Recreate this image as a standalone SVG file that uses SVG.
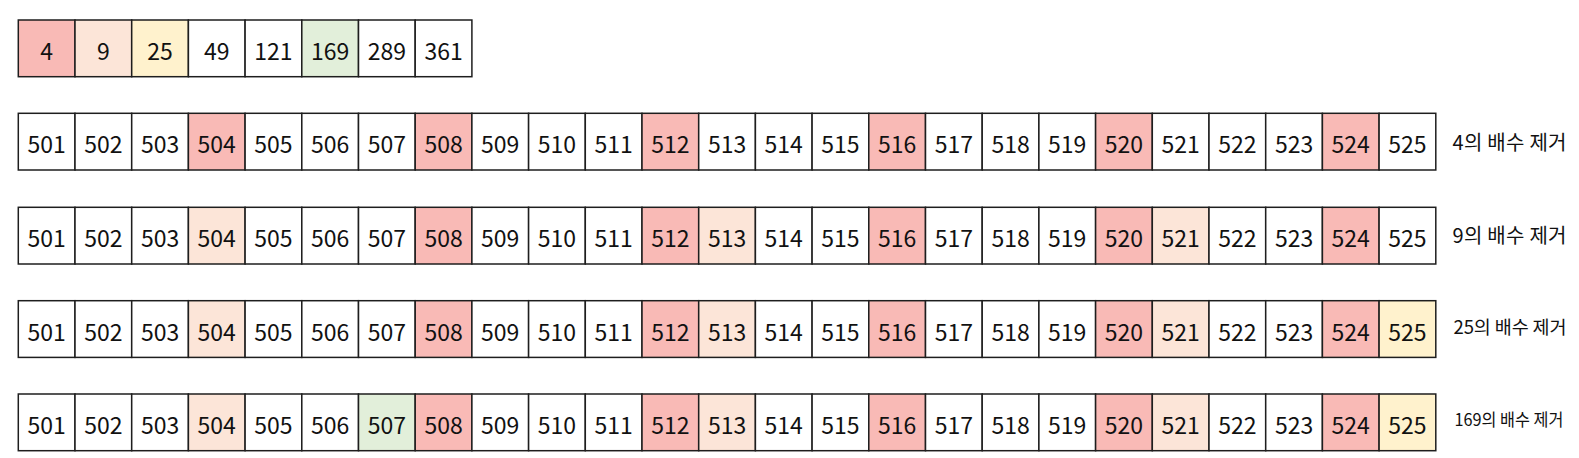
<svg xmlns="http://www.w3.org/2000/svg" width="1579" height="458" viewBox="0 0 1579 458">
<style>
rect{fill:#fff;stroke:#1e1e1e;stroke-width:1.5}
rect.r{fill:#F9BAB6}
rect.p{fill:#FCE5D8}
rect.y{fill:#FFF2CD}
rect.g{fill:#E2EFDA}
text{font-family:"Noto Sans CJK KR","Noto Sans",sans-serif;fill:#111}
.n{font-size:23px;text-anchor:middle}
.l{font-size:20px}
</style>
<rect x="0" y="0" width="1579" height="458" style="fill:#fff;stroke:none"/>
<g id="primes">
<g id="p4"><rect class="r" x="18.3" y="20" width="56.7" height="56.7"/><text class="n" x="46.65" y="59.7">4</text></g>
<g id="p9"><rect class="p" x="75" y="20" width="56.7" height="56.7"/><text class="n" x="103.35" y="59.7">9</text></g>
<g id="p25"><rect class="y" x="131.7" y="20" width="56.7" height="56.7"/><text class="n" x="160.05" y="59.7">25</text></g>
<g id="p49"><rect x="188.4" y="20" width="56.7" height="56.7"/><text class="n" x="216.75" y="59.7">49</text></g>
<g id="p121"><rect x="245.1" y="20" width="56.7" height="56.7"/><text class="n" x="273.45" y="59.7">121</text></g>
<g id="p169"><rect class="g" x="301.8" y="20" width="56.7" height="56.7"/><text class="n" x="330.15" y="59.7">169</text></g>
<g id="p289"><rect x="358.5" y="20" width="56.7" height="56.7"/><text class="n" x="386.85" y="59.7">289</text></g>
<g id="p361"><rect x="415.2" y="20" width="56.7" height="56.7"/><text class="n" x="443.55" y="59.7">361</text></g>
</g>

<g id="row1" transform="translate(0,113.3)">
<g id="a501"><rect x="18.3" y="0" width="56.7" height="56.7"/><text class="n" x="46.65" y="40">501</text></g>
<g id="a502"><rect x="75" y="0" width="56.7" height="56.7"/><text class="n" x="103.35" y="40">502</text></g>
<g id="a503"><rect x="131.7" y="0" width="56.7" height="56.7"/><text class="n" x="160.05" y="40">503</text></g>
<g id="a504"><rect class="r" x="188.4" y="0" width="56.7" height="56.7"/><text class="n" x="216.75" y="40">504</text></g>
<g id="a505"><rect x="245.1" y="0" width="56.7" height="56.7"/><text class="n" x="273.45" y="40">505</text></g>
<g id="a506"><rect x="301.8" y="0" width="56.7" height="56.7"/><text class="n" x="330.15" y="40">506</text></g>
<g id="a507"><rect x="358.5" y="0" width="56.7" height="56.7"/><text class="n" x="386.85" y="40">507</text></g>
<g id="a508"><rect class="r" x="415.2" y="0" width="56.7" height="56.7"/><text class="n" x="443.55" y="40">508</text></g>
<g id="a509"><rect x="471.9" y="0" width="56.7" height="56.7"/><text class="n" x="500.25" y="40">509</text></g>
<g id="a510"><rect x="528.6" y="0" width="56.7" height="56.7"/><text class="n" x="556.95" y="40">510</text></g>
<g id="a511"><rect x="585.3" y="0" width="56.7" height="56.7"/><text class="n" x="613.65" y="40">511</text></g>
<g id="a512"><rect class="r" x="642" y="0" width="56.7" height="56.7"/><text class="n" x="670.35" y="40">512</text></g>
<g id="a513"><rect x="698.7" y="0" width="56.7" height="56.7"/><text class="n" x="727.05" y="40">513</text></g>
<g id="a514"><rect x="755.4" y="0" width="56.7" height="56.7"/><text class="n" x="783.75" y="40">514</text></g>
<g id="a515"><rect x="812.1" y="0" width="56.7" height="56.7"/><text class="n" x="840.45" y="40">515</text></g>
<g id="a516"><rect class="r" x="868.8" y="0" width="56.7" height="56.7"/><text class="n" x="897.15" y="40">516</text></g>
<g id="a517"><rect x="925.5" y="0" width="56.7" height="56.7"/><text class="n" x="953.85" y="40">517</text></g>
<g id="a518"><rect x="982.2" y="0" width="56.7" height="56.7"/><text class="n" x="1010.55" y="40">518</text></g>
<g id="a519"><rect x="1038.9" y="0" width="56.7" height="56.7"/><text class="n" x="1067.25" y="40">519</text></g>
<g id="a520"><rect class="r" x="1095.6" y="0" width="56.7" height="56.7"/><text class="n" x="1123.95" y="40">520</text></g>
<g id="a521"><rect x="1152.3" y="0" width="56.7" height="56.7"/><text class="n" x="1180.65" y="40">521</text></g>
<g id="a522"><rect x="1209" y="0" width="56.7" height="56.7"/><text class="n" x="1237.35" y="40">522</text></g>
<g id="a523"><rect x="1265.7" y="0" width="56.7" height="56.7"/><text class="n" x="1294.05" y="40">523</text></g>
<g id="a524"><rect class="r" x="1322.4" y="0" width="56.7" height="56.7"/><text class="n" x="1350.75" y="40">524</text></g>
<g id="a525"><rect x="1379.1" y="0" width="56.7" height="56.7"/><text class="n" x="1407.45" y="40">525</text></g>
<g id="a-label"><text class="l" x="1452.5" y="37" textLength="114" lengthAdjust="spacing">4의 배수 제거</text></g>
</g>

<g id="row2" transform="translate(0,207.3)">
<g id="b501"><rect x="18.3" y="0" width="56.7" height="56.7"/><text class="n" x="46.65" y="40">501</text></g>
<g id="b502"><rect x="75" y="0" width="56.7" height="56.7"/><text class="n" x="103.35" y="40">502</text></g>
<g id="b503"><rect x="131.7" y="0" width="56.7" height="56.7"/><text class="n" x="160.05" y="40">503</text></g>
<g id="b504"><rect class="p" x="188.4" y="0" width="56.7" height="56.7"/><text class="n" x="216.75" y="40">504</text></g>
<g id="b505"><rect x="245.1" y="0" width="56.7" height="56.7"/><text class="n" x="273.45" y="40">505</text></g>
<g id="b506"><rect x="301.8" y="0" width="56.7" height="56.7"/><text class="n" x="330.15" y="40">506</text></g>
<g id="b507"><rect x="358.5" y="0" width="56.7" height="56.7"/><text class="n" x="386.85" y="40">507</text></g>
<g id="b508"><rect class="r" x="415.2" y="0" width="56.7" height="56.7"/><text class="n" x="443.55" y="40">508</text></g>
<g id="b509"><rect x="471.9" y="0" width="56.7" height="56.7"/><text class="n" x="500.25" y="40">509</text></g>
<g id="b510"><rect x="528.6" y="0" width="56.7" height="56.7"/><text class="n" x="556.95" y="40">510</text></g>
<g id="b511"><rect x="585.3" y="0" width="56.7" height="56.7"/><text class="n" x="613.65" y="40">511</text></g>
<g id="b512"><rect class="r" x="642" y="0" width="56.7" height="56.7"/><text class="n" x="670.35" y="40">512</text></g>
<g id="b513"><rect class="p" x="698.7" y="0" width="56.7" height="56.7"/><text class="n" x="727.05" y="40">513</text></g>
<g id="b514"><rect x="755.4" y="0" width="56.7" height="56.7"/><text class="n" x="783.75" y="40">514</text></g>
<g id="b515"><rect x="812.1" y="0" width="56.7" height="56.7"/><text class="n" x="840.45" y="40">515</text></g>
<g id="b516"><rect class="r" x="868.8" y="0" width="56.7" height="56.7"/><text class="n" x="897.15" y="40">516</text></g>
<g id="b517"><rect x="925.5" y="0" width="56.7" height="56.7"/><text class="n" x="953.85" y="40">517</text></g>
<g id="b518"><rect x="982.2" y="0" width="56.7" height="56.7"/><text class="n" x="1010.55" y="40">518</text></g>
<g id="b519"><rect x="1038.9" y="0" width="56.7" height="56.7"/><text class="n" x="1067.25" y="40">519</text></g>
<g id="b520"><rect class="r" x="1095.6" y="0" width="56.7" height="56.7"/><text class="n" x="1123.95" y="40">520</text></g>
<g id="b521"><rect class="p" x="1152.3" y="0" width="56.7" height="56.7"/><text class="n" x="1180.65" y="40">521</text></g>
<g id="b522"><rect x="1209" y="0" width="56.7" height="56.7"/><text class="n" x="1237.35" y="40">522</text></g>
<g id="b523"><rect x="1265.7" y="0" width="56.7" height="56.7"/><text class="n" x="1294.05" y="40">523</text></g>
<g id="b524"><rect class="r" x="1322.4" y="0" width="56.7" height="56.7"/><text class="n" x="1350.75" y="40">524</text></g>
<g id="b525"><rect x="1379.1" y="0" width="56.7" height="56.7"/><text class="n" x="1407.45" y="40">525</text></g>
<g id="b-label"><text class="l" x="1452.5" y="35.7" textLength="114" lengthAdjust="spacing">9의 배수 제거</text></g>
</g>

<g id="row3" transform="translate(0,300.7)">
<g id="c501"><rect x="18.3" y="0" width="56.7" height="56.7"/><text class="n" x="46.65" y="40">501</text></g>
<g id="c502"><rect x="75" y="0" width="56.7" height="56.7"/><text class="n" x="103.35" y="40">502</text></g>
<g id="c503"><rect x="131.7" y="0" width="56.7" height="56.7"/><text class="n" x="160.05" y="40">503</text></g>
<g id="c504"><rect class="p" x="188.4" y="0" width="56.7" height="56.7"/><text class="n" x="216.75" y="40">504</text></g>
<g id="c505"><rect x="245.1" y="0" width="56.7" height="56.7"/><text class="n" x="273.45" y="40">505</text></g>
<g id="c506"><rect x="301.8" y="0" width="56.7" height="56.7"/><text class="n" x="330.15" y="40">506</text></g>
<g id="c507"><rect x="358.5" y="0" width="56.7" height="56.7"/><text class="n" x="386.85" y="40">507</text></g>
<g id="c508"><rect class="r" x="415.2" y="0" width="56.7" height="56.7"/><text class="n" x="443.55" y="40">508</text></g>
<g id="c509"><rect x="471.9" y="0" width="56.7" height="56.7"/><text class="n" x="500.25" y="40">509</text></g>
<g id="c510"><rect x="528.6" y="0" width="56.7" height="56.7"/><text class="n" x="556.95" y="40">510</text></g>
<g id="c511"><rect x="585.3" y="0" width="56.7" height="56.7"/><text class="n" x="613.65" y="40">511</text></g>
<g id="c512"><rect class="r" x="642" y="0" width="56.7" height="56.7"/><text class="n" x="670.35" y="40">512</text></g>
<g id="c513"><rect class="p" x="698.7" y="0" width="56.7" height="56.7"/><text class="n" x="727.05" y="40">513</text></g>
<g id="c514"><rect x="755.4" y="0" width="56.7" height="56.7"/><text class="n" x="783.75" y="40">514</text></g>
<g id="c515"><rect x="812.1" y="0" width="56.7" height="56.7"/><text class="n" x="840.45" y="40">515</text></g>
<g id="c516"><rect class="r" x="868.8" y="0" width="56.7" height="56.7"/><text class="n" x="897.15" y="40">516</text></g>
<g id="c517"><rect x="925.5" y="0" width="56.7" height="56.7"/><text class="n" x="953.85" y="40">517</text></g>
<g id="c518"><rect x="982.2" y="0" width="56.7" height="56.7"/><text class="n" x="1010.55" y="40">518</text></g>
<g id="c519"><rect x="1038.9" y="0" width="56.7" height="56.7"/><text class="n" x="1067.25" y="40">519</text></g>
<g id="c520"><rect class="r" x="1095.6" y="0" width="56.7" height="56.7"/><text class="n" x="1123.95" y="40">520</text></g>
<g id="c521"><rect class="p" x="1152.3" y="0" width="56.7" height="56.7"/><text class="n" x="1180.65" y="40">521</text></g>
<g id="c522"><rect x="1209" y="0" width="56.7" height="56.7"/><text class="n" x="1237.35" y="40">522</text></g>
<g id="c523"><rect x="1265.7" y="0" width="56.7" height="56.7"/><text class="n" x="1294.05" y="40">523</text></g>
<g id="c524"><rect class="r" x="1322.4" y="0" width="56.7" height="56.7"/><text class="n" x="1350.75" y="40">524</text></g>
<g id="c525"><rect class="y" x="1379.1" y="0" width="56.7" height="56.7"/><text class="n" x="1407.45" y="40">525</text></g>
<g id="c-label"><text class="l" x="1453.5" y="33" textLength="113" lengthAdjust="spacing" style="font-size:18.5px">25의 배수 제거</text></g>
</g>

<g id="row4" transform="translate(0,394)">
<g id="d501"><rect x="18.3" y="0" width="56.7" height="56.7"/><text class="n" x="46.65" y="40">501</text></g>
<g id="d502"><rect x="75" y="0" width="56.7" height="56.7"/><text class="n" x="103.35" y="40">502</text></g>
<g id="d503"><rect x="131.7" y="0" width="56.7" height="56.7"/><text class="n" x="160.05" y="40">503</text></g>
<g id="d504"><rect class="p" x="188.4" y="0" width="56.7" height="56.7"/><text class="n" x="216.75" y="40">504</text></g>
<g id="d505"><rect x="245.1" y="0" width="56.7" height="56.7"/><text class="n" x="273.45" y="40">505</text></g>
<g id="d506"><rect x="301.8" y="0" width="56.7" height="56.7"/><text class="n" x="330.15" y="40">506</text></g>
<g id="d507"><rect class="g" x="358.5" y="0" width="56.7" height="56.7"/><text class="n" x="386.85" y="40">507</text></g>
<g id="d508"><rect class="r" x="415.2" y="0" width="56.7" height="56.7"/><text class="n" x="443.55" y="40">508</text></g>
<g id="d509"><rect x="471.9" y="0" width="56.7" height="56.7"/><text class="n" x="500.25" y="40">509</text></g>
<g id="d510"><rect x="528.6" y="0" width="56.7" height="56.7"/><text class="n" x="556.95" y="40">510</text></g>
<g id="d511"><rect x="585.3" y="0" width="56.7" height="56.7"/><text class="n" x="613.65" y="40">511</text></g>
<g id="d512"><rect class="r" x="642" y="0" width="56.7" height="56.7"/><text class="n" x="670.35" y="40">512</text></g>
<g id="d513"><rect class="p" x="698.7" y="0" width="56.7" height="56.7"/><text class="n" x="727.05" y="40">513</text></g>
<g id="d514"><rect x="755.4" y="0" width="56.7" height="56.7"/><text class="n" x="783.75" y="40">514</text></g>
<g id="d515"><rect x="812.1" y="0" width="56.7" height="56.7"/><text class="n" x="840.45" y="40">515</text></g>
<g id="d516"><rect class="r" x="868.8" y="0" width="56.7" height="56.7"/><text class="n" x="897.15" y="40">516</text></g>
<g id="d517"><rect x="925.5" y="0" width="56.7" height="56.7"/><text class="n" x="953.85" y="40">517</text></g>
<g id="d518"><rect x="982.2" y="0" width="56.7" height="56.7"/><text class="n" x="1010.55" y="40">518</text></g>
<g id="d519"><rect x="1038.9" y="0" width="56.7" height="56.7"/><text class="n" x="1067.25" y="40">519</text></g>
<g id="d520"><rect class="r" x="1095.6" y="0" width="56.7" height="56.7"/><text class="n" x="1123.95" y="40">520</text></g>
<g id="d521"><rect class="p" x="1152.3" y="0" width="56.7" height="56.7"/><text class="n" x="1180.65" y="40">521</text></g>
<g id="d522"><rect x="1209" y="0" width="56.7" height="56.7"/><text class="n" x="1237.35" y="40">522</text></g>
<g id="d523"><rect x="1265.7" y="0" width="56.7" height="56.7"/><text class="n" x="1294.05" y="40">523</text></g>
<g id="d524"><rect class="r" x="1322.4" y="0" width="56.7" height="56.7"/><text class="n" x="1350.75" y="40">524</text></g>
<g id="d525"><rect class="y" x="1379.1" y="0" width="56.7" height="56.7"/><text class="n" x="1407.45" y="40">525</text></g>
<g id="d-label"><text class="l" x="1454.5" y="32" textLength="109" lengthAdjust="spacingAndGlyphs" style="font-size:17px">169의 배수 제거</text></g>
</g>
<g id="connectors"/>
</svg>
